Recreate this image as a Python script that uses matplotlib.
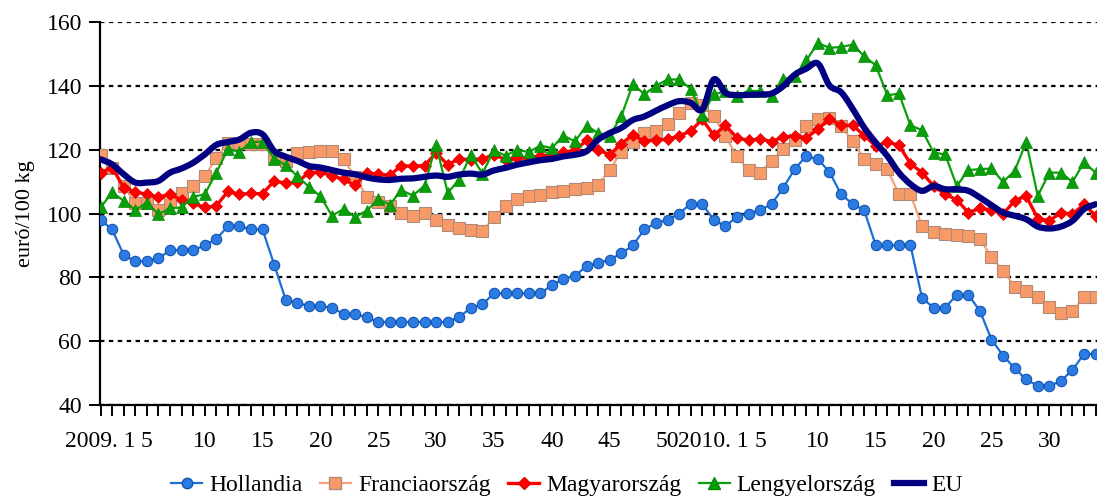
import matplotlib
matplotlib.use("Agg")
import matplotlib.pyplot as plt
from matplotlib.path import Path
import matplotlib.patches as mpatches
from matplotlib.lines import Line2D

plt.rcParams['font.family'] = ['Liberation Serif', 'DejaVu Serif']

# --- data: weekly prices, 2009 week 1 .. 2010 week 34 (euro/100 kg) ---
week_labels = (["2009. 1", "", "", "", "5"] + [""] * 4 + ["10"] + [""] * 4 + ["15"]
               + [""] * 4 + ["20"] + [""] * 4 + ["25"] + [""] * 4 + ["30"] + [""] * 4
               + ["35"] + [""] * 4 + ["40"] + [""] * 4 + ["45"] + [""] * 4 + ["50"]
               + ["", "", ""] + ["2010. 1", "", "", "", "5"] + [""] * 4 + ["10"] + [""] * 4
               + ["15"] + [""] * 4 + ["20"] + [""] * 4 + ["25"] + [""] * 4 + ["30"]
               + [""] * 4)

hollandia = [98, 95, 87, 85, 85, 86, 88.5, 88.5, 88.5, 90,
             92, 96, 96, 95, 95, 84, 73, 72, 71, 71,
             70.5, 68.5, 68.5, 67.5, 66, 66, 66, 66, 66, 66,
             66, 67.5, 70.5, 71.5, 75, 75, 75, 75, 75, 77.5,
             79.5, 80.5, 83.5, 84.5, 85.5, 87.5, 90, 95, 97, 98,
             100, 103, 103, 98, 96, 99, 100, 101, 103, 108,
             114, 118, 117, 113, 106, 103, 101, 90, 90, 90,
             90, 73.5, 70.5, 70.5, 74.5, 74.5, 69.5, 60.5, 55.5, 51.5,
             48, 46, 46, 47.5, 51, 56, 56]

francia = [118.3, 114.4, 108.5, 103.4, 103.4, 101, 103.5, 106.3, 108.6, 111.6,
           117.4, 122, 122, 121.7, 121.7, 117.5, 116.6, 119, 119.4, 119.7,
           119.7, 117, 111.5, 105.3, 103.5, 102.4, 100.3, 99.3, 100.3, 98,
           96.4, 95.6, 94.9, 94.4, 98.8, 102.2, 104.5, 105.5, 105.8, 106.6,
           107.1, 107.6, 107.9, 109, 113.6, 119.3, 122.4, 125.1, 126, 127.9,
           131.6, 134.7, 134, 130.5, 124.3, 118, 113.5, 112.8, 116.5, 120.1,
           123, 127.4, 129.5, 130, 127.4, 122.7, 117.2, 115.4, 113.9, 106,
           106, 96, 94.3, 93.6, 93.2, 92.9, 92.1, 86.3, 82.1, 77.1,
           75.8, 73.8, 70.6, 68.9, 69.3, 73.8, 73.8]

magyar = [112.8, 114.4, 108.1, 106.8, 106, 105.2, 106, 104.2, 103.2, 101.9,
          102.4, 106.9, 106, 106.3, 106.2, 110.2, 109.5, 109.8, 112.8, 113,
          111.8, 110.7, 108.8, 112.8, 112.3, 112, 115, 114.8, 115, 119,
          115.3, 117.1, 116.9, 117.1, 118.4, 116.9, 117.4, 117.4, 118.1, 118.4,
          119.2, 119.8, 122.9, 120, 118.4, 121.8, 124.7, 122.6, 123.1, 123.2,
          124.3, 125.8, 129.5, 124.5, 127.6, 123.75, 122.9, 123.4, 122.5, 124,
          124.3, 123.75, 126.4, 129.7, 127.6, 127.6, 124.5, 121.1, 122.4, 121.4,
          115.6, 112.8, 108.6, 106, 104.3, 100.3, 101.6, 101.1, 99.8, 104,
          105.5, 98.4, 97.7, 100.3, 99.8, 102.9, 99.3]

lengyel = [101.9, 106.6, 104, 101.1, 103.4, 99.8, 101.6, 101.9, 105.3, 106,
           112.8, 120.1, 119.4, 122.4, 122.5, 117.2, 115.2, 111.7, 108.4, 105.4,
           99.3, 101.4, 98.9, 100.9, 104.4, 102.8, 107.3, 105.6, 108.75, 121.6,
           106.5, 110.6, 118.4, 112.5, 119.8, 118.1, 120, 119.2, 121.3, 120.5,
           124.4, 122.6, 127.5, 125.2, 124.4, 130.4, 140.5, 137.4, 140, 142,
           142, 139.1, 131, 137.3, 138.3, 136.8, 138.5, 138.3, 136.8, 142,
           143.2, 148, 153.4, 151.9, 152.2, 152.9, 149.3, 146.4, 137, 137.6,
           127.6, 126.1, 119.1, 118.5, 108.6, 113.6, 113.9, 114.1, 109.9, 113.3,
           122.4, 105.5, 112.8, 112.8, 109.9, 116, 112.8]

eu = [117, 115.4, 112.3, 109.7, 109.7, 110.2, 112.8, 114.1, 115.9, 118.5,
      121.5, 122.4, 123.2, 125.3, 124.8, 119.6, 117.8, 116.5, 114.9, 114.4,
      113.6, 112.8, 112.3, 111.3, 110.7, 110.5, 110.9, 111, 111.5, 111.9,
      111.5, 112.2, 112.5, 112.2, 113.5, 114.3, 115.3, 116, 116.7, 117.1,
      117.9, 118.4, 119.5, 123.1, 125.2, 126.8, 129.3, 130.4, 132.2, 133.9,
      135.2, 134.7, 132.6, 142, 137.8, 137.1, 137.2, 137.3, 137.6, 139.9,
      143.5, 145.4, 147, 140.1, 138, 132.8, 126.9, 122.2, 118, 112.8,
      109.2, 107.1, 108.6, 107.6, 107.6, 107.1, 105, 102.6, 100.3, 99.3,
      98.2, 95.9, 95.3, 95.9, 97.7, 101.4, 102.9]

x = list(range(len(hollandia)))

fig = plt.figure(figsize=(10.97, 4.99), dpi=100)
ax = fig.add_axes([100 / 1097, 94 / 499, 997 / 1097, 383 / 499])

# --- series ---
ax.plot(x, hollandia, color='#1a6fd6', lw=1.6, marker='o', ms=7.5,
        mfc='#2b7be3', mec='#1455b0', mew=0.8, zorder=3)
ax.plot(x, francia, color='#f9a27a', lw=1.6, marker='s', ms=8,
        mfc='#f89a68', mec='#b08a78', mew=0.8, zorder=3)
ax.plot(x, magyar, color='#ff0000', lw=2.4, marker='D', ms=6.5,
        mfc='#ff0000', mec='#e00000', mew=0.5, zorder=4)
ax.plot(x, lengyel, color='#0aa00a', lw=1.6, marker='^', ms=9,
        mfc='#0a9e0a', mec='#078a07', mew=0.5, zorder=4)

# EU: smoothed line (Catmull-Rom style bezier through the weekly values)
verts = [(x[0], eu[0])]
codes = [Path.MOVETO]
n = len(eu)
for i in range(n - 1):
    xm, ym = (x[i - 1], eu[i - 1]) if i > 0 else (x[i], eu[i])
    xp2, yp2 = (x[i + 2], eu[i + 2]) if i + 2 < n else (x[i + 1], eu[i + 1])
    c1 = (x[i] + (x[i + 1] - xm) / 6, eu[i] + (eu[i + 1] - ym) / 6)
    c2 = (x[i + 1] - (xp2 - x[i]) / 6, eu[i + 1] - (yp2 - eu[i]) / 6)
    verts += [c1, c2, (x[i + 1], eu[i + 1])]
    codes += [Path.CURVE4] * 3
ax.add_patch(mpatches.PathPatch(Path(verts, codes), fill=False,
                                edgecolor='#000080', lw=4.5,
                                capstyle='round', joinstyle='round', zorder=5))

# --- axes formatting ---
ax.set_xlim(-0.05, 86.12)
ax.set_ylim(40, 160)
ax.set_yticks(range(40, 161, 20))
ax.set_xticks(x)
ax.set_xticklabels(week_labels)
ax.tick_params(axis='both', labelsize=17, width=1.4, color='black')
ax.tick_params(axis='y', length=8, pad=5)
ax.tick_params(axis='x', length=8, pad=11)
for s in ['top', 'right']:
    ax.spines[s].set_visible(False)
for s in ['left', 'bottom']:
    ax.spines[s].set_linewidth(1.6)
ax.yaxis.grid(True, color='black', lw=1.6, linestyle=(0, (2, 2)))
ax.set_axisbelow(True)
ax.set_ylabel('euró/100 kg', fontsize=16, labelpad=8)

# --- legend ---
handles = [
    Line2D([], [], color='#1a6fd6', lw=1.6, marker='o', ms=7.5, mfc='#2b7be3', mec='#1455b0'),
    Line2D([], [], color='#f9a27a', lw=1.6, marker='s', ms=8, mfc='#f89a68', mec='#b08a78'),
    Line2D([], [], color='#ff0000', lw=2.4, marker='D', ms=6.5, mfc='#ff0000', mec='#e00000'),
    Line2D([], [], color='#0aa00a', lw=1.6, marker='^', ms=9, mfc='#0a9e0a', mec='#078a07'),
    Line2D([], [], color='#000080', lw=4.5),
]
names = ['Hollandia', 'Franciaország', 'Magyarország', 'Lengyelország', 'EU']
fig.legend(handles, names, loc='center', bbox_to_anchor=(0.517, 0.028), ncol=5,
           frameon=False, fontsize=17, handlelength=1.3, handletextpad=0.3,
           columnspacing=0.75)

fig.savefig('out.png', dpi=100)
